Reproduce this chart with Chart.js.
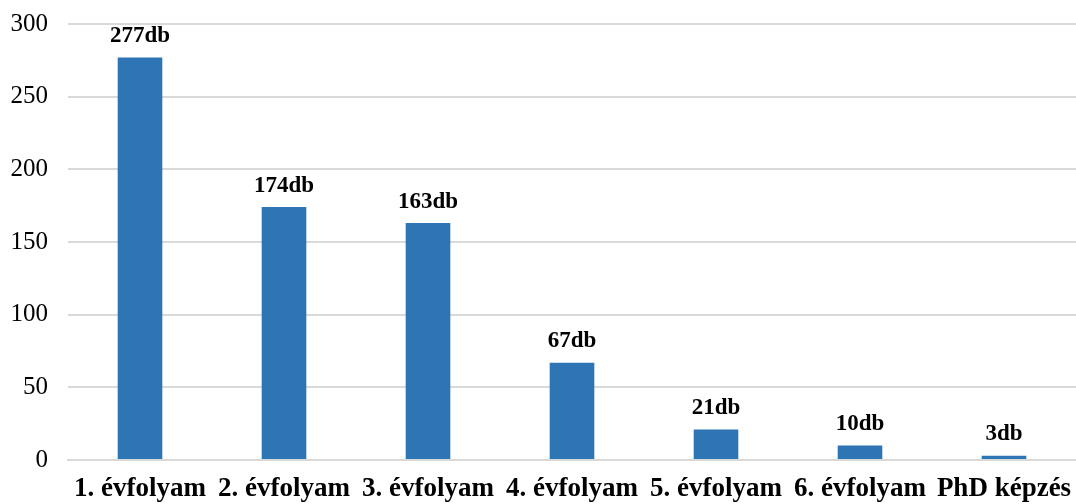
<!DOCTYPE html>
<html>
<head>
<meta charset="utf-8">
<script src="https://cdn.jsdelivr.net/npm/chart.js@4/dist/chart.umd.min.js"></script>
<style>
  html, body { margin: 0; padding: 0; background: #fff; }
  #wrap { width: 1076px; height: 504px; }
</style>
</head>
<body>
<div id="wrap"><canvas id="c" width="1076" height="504"></canvas></div>
<script>
const categories = ['1. évfolyam', '2. évfolyam', '3. évfolyam', '4. évfolyam', '5. évfolyam', '6. évfolyam', 'PhD képzés'];
const counts = [277, 174, 163, 67, 21, 10, 3];
const unit = 'db';
const yTicks = [0, 50, 100, 150, 200, 250, 300];

const serif = '"Liberation Serif", "Times New Roman", serif';

// value labels drawn above each bar
const barLabels = {
  id: 'barLabels',
  afterDatasetsDraw(chart) {
    const ctx = chart.ctx;
    const meta = chart.getDatasetMeta(0);
    ctx.save();
    ctx.font = 'bold 23px ' + serif;
    ctx.fillStyle = '#000';
    ctx.textAlign = 'center';
    ctx.textBaseline = 'bottom';
    meta.data.forEach((bar, i) => {
      ctx.fillText(counts[i] + unit, bar.x, bar.y - 10);
    });
    ctx.restore();
  }
};

new Chart(document.getElementById('c'), {
  type: 'bar',
  data: {
    labels: categories,
    datasets: [{
      data: counts,
      backgroundColor: '#2E75B6',
      categoryPercentage: 1,
      barPercentage: 0.31
    }]
  },
  options: {
    responsive: false,
    animation: false,
    layout: { padding: 0 },
    plugins: { legend: { display: false }, tooltip: { enabled: false } },
    scales: {
      x: {
        afterFit(axis) {
          axis.height = 44;
          axis.paddingLeft = 0;
          axis.paddingRight = 0;
        },
        grid: { display: false, drawTicks: false },
        border: { display: true, color: '#d9d9d9', width: 2 },
        ticks: { color: '#000', font: { family: serif, size: 27, weight: 'bold', lineHeight: 1 }, padding: 16, maxRotation: 0, autoSkip: false }
      },
      y: {
        min: 0, max: 300,
        afterBuildTicks(axis) { axis.ticks = yTicks.map(v => ({ value: v })); },
        afterFit(axis) {
          axis.width = 68;
          axis.paddingTop = 24;
          axis.paddingBottom = 0;
        },
        grid: { color: '#d9d9d9', lineWidth: 2, drawTicks: false },
        border: { display: false },
        ticks: { color: '#000', font: { family: serif, size: 25 }, padding: 20 }
      }
    }
  },
  plugins: [barLabels]
});
</script>
</body>
</html>
